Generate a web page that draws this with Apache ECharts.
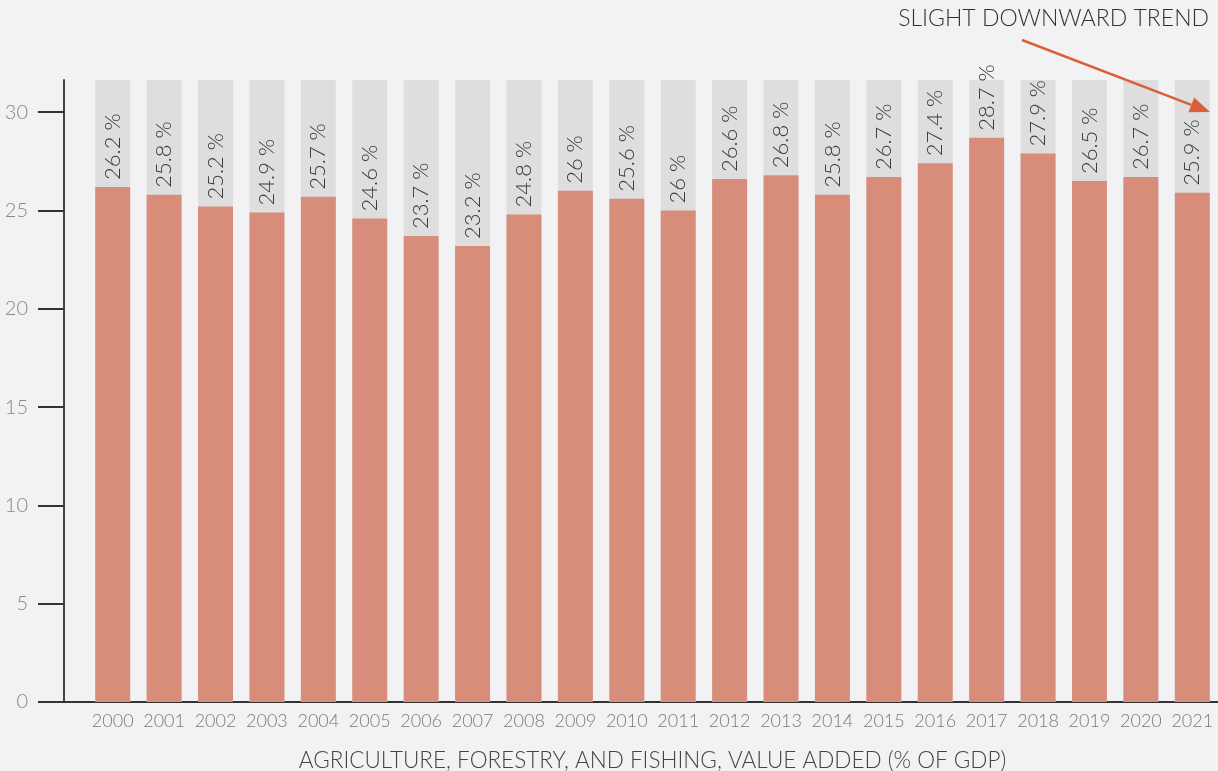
<!DOCTYPE html>
<html>
<head>
<meta charset="utf-8">
<script src="https://cdn.jsdelivr.net/npm/echarts@6/dist/echarts.min.js"></script>
<style>
html,body{margin:0;padding:0;background:#f2f2f4;}
#c{width:1218px;height:771px;}
</style>
</head>
<body>
<div id="c"></div>
<script>
const years = ['2000','2001','2002','2003','2004','2005','2006','2007','2008','2009','2010','2011','2012','2013','2014','2015','2016','2017','2018','2019','2020','2021'];
const values = [26.2,25.8,25.2,24.9,25.7,24.6,23.7,23.2,24.8,26.0,25.6,25.0,26.6,26.8,25.8,26.7,27.4,28.7,27.9,26.5,26.7,25.9];
const labelTexts = ['26.2 %','25.8 %','25.2 %','24.9 %','25.7 %','24.6 %','23.7 %','23.2 %','24.8 %','26 %','25.6 %','26 %','26.6 %','26.8 %','25.8 %','26.7 %','27.4 %','28.7 %','27.9 %','26.5 %','26.7 %','25.9 %'];
const yTicks = [0,5,10,15,20,25,30];
const axisTitle = 'AGRICULTURE, FORESTRY, AND FISHING, VALUE ADDED (% OF GDP)';
const annotation = 'SLIGHT DOWNWARD TREND';

const FONT = 'Lato, "Open Sans", sans-serif';
const chart = echarts.init(document.getElementById('c'));
chart.setOption({
  backgroundColor: '#f2f2f4',
  animation: false,
  grid: {left: 87, right: 0, top: 80, bottom: 69, containLabel: false, outerBoundsMode: 'none'},
  xAxis: {
    type: 'category',
    data: years,
    axisLine: {lineStyle: {color: '#333', width: 2}},
    axisTick: {alignWithLabel: true, interval: 0, length: 7, lineStyle: {color: '#333', width: 2}},
    axisLabel: {interval: 0, color: '#7a7a7a', fontSize: 18, fontFamily: FONT, fontWeight: 300, margin: 10},
    name: axisTitle,
    nameLocation: 'middle',
    nameGap: 47,
    nameTextStyle: {color: '#444', fontSize: 22.5, fontFamily: FONT, fontWeight: 300}
  },
  yAxis: {
    type: 'value',
    min: 0,
    max: 31.64,
    interval: 5,
    offset: 23,
    splitLine: {show: false},
    axisLine: {show: true, lineStyle: {color: '#444', width: 2}},
    axisTick: {show: true, length: 26, customValues: yTicks, lineStyle: {color: '#333', width: 2}},
    axisLabel: {color: '#888', fontSize: 20, fontFamily: FONT, fontWeight: 300, margin: 36, customValues: yTicks}
  },
  series: [{
    type: 'bar',
    data: values,
    barCategoryGap: '32%',
    showBackground: true,
    backgroundStyle: {color: '#dfdedf'},
    itemStyle: {color: '#d88c7a'},
    label: {
      show: true,
      position: 'top',
      rotate: 90,
      align: 'left',
      verticalAlign: 'middle',
      distance: 7,
      color: '#3a3a3a',
      fontSize: 22,
      fontFamily: FONT,
      fontWeight: 300,
      formatter: p => labelTexts[p.dataIndex]
    }
  }]
});

// annotation arrow
const x1 = 1022, y1 = 40, x2 = 1210, y2 = 112;
const ang = Math.atan2(y2 - y1, x2 - x1);
const hl = 20, hw = 8;
const bx = x2 - hl * Math.cos(ang), by = y2 - hl * Math.sin(ang);
const px = -Math.sin(ang) * hw, py = Math.cos(ang) * hw;
// x-axis line extension to the offset y-axis
const zero = chart.convertToPixel({yAxisIndex: 0}, 0);
chart.setOption({
  graphic: [
    {type: 'text', right: 9, top: 7, z: 100, style: {text: annotation, fill: '#333', fontSize: 23, fontFamily: FONT, fontWeight: 300}},
    {type: 'line', z: 100, shape: {x1: x1, y1: y1, x2: bx, y2: by}, style: {stroke: '#d9603b', lineWidth: 2.5}},
    {type: 'polygon', z: 100, shape: {points: [[x2, y2], [bx + px, by + py], [bx - px, by - py]]}, style: {fill: '#d9603b'}},
    {type: 'line', z: 100, shape: {x1: 38, y1: zero, x2: 88, y2: zero}, style: {stroke: '#333', lineWidth: 2}}
  ]
});
</script>
</body>
</html>
